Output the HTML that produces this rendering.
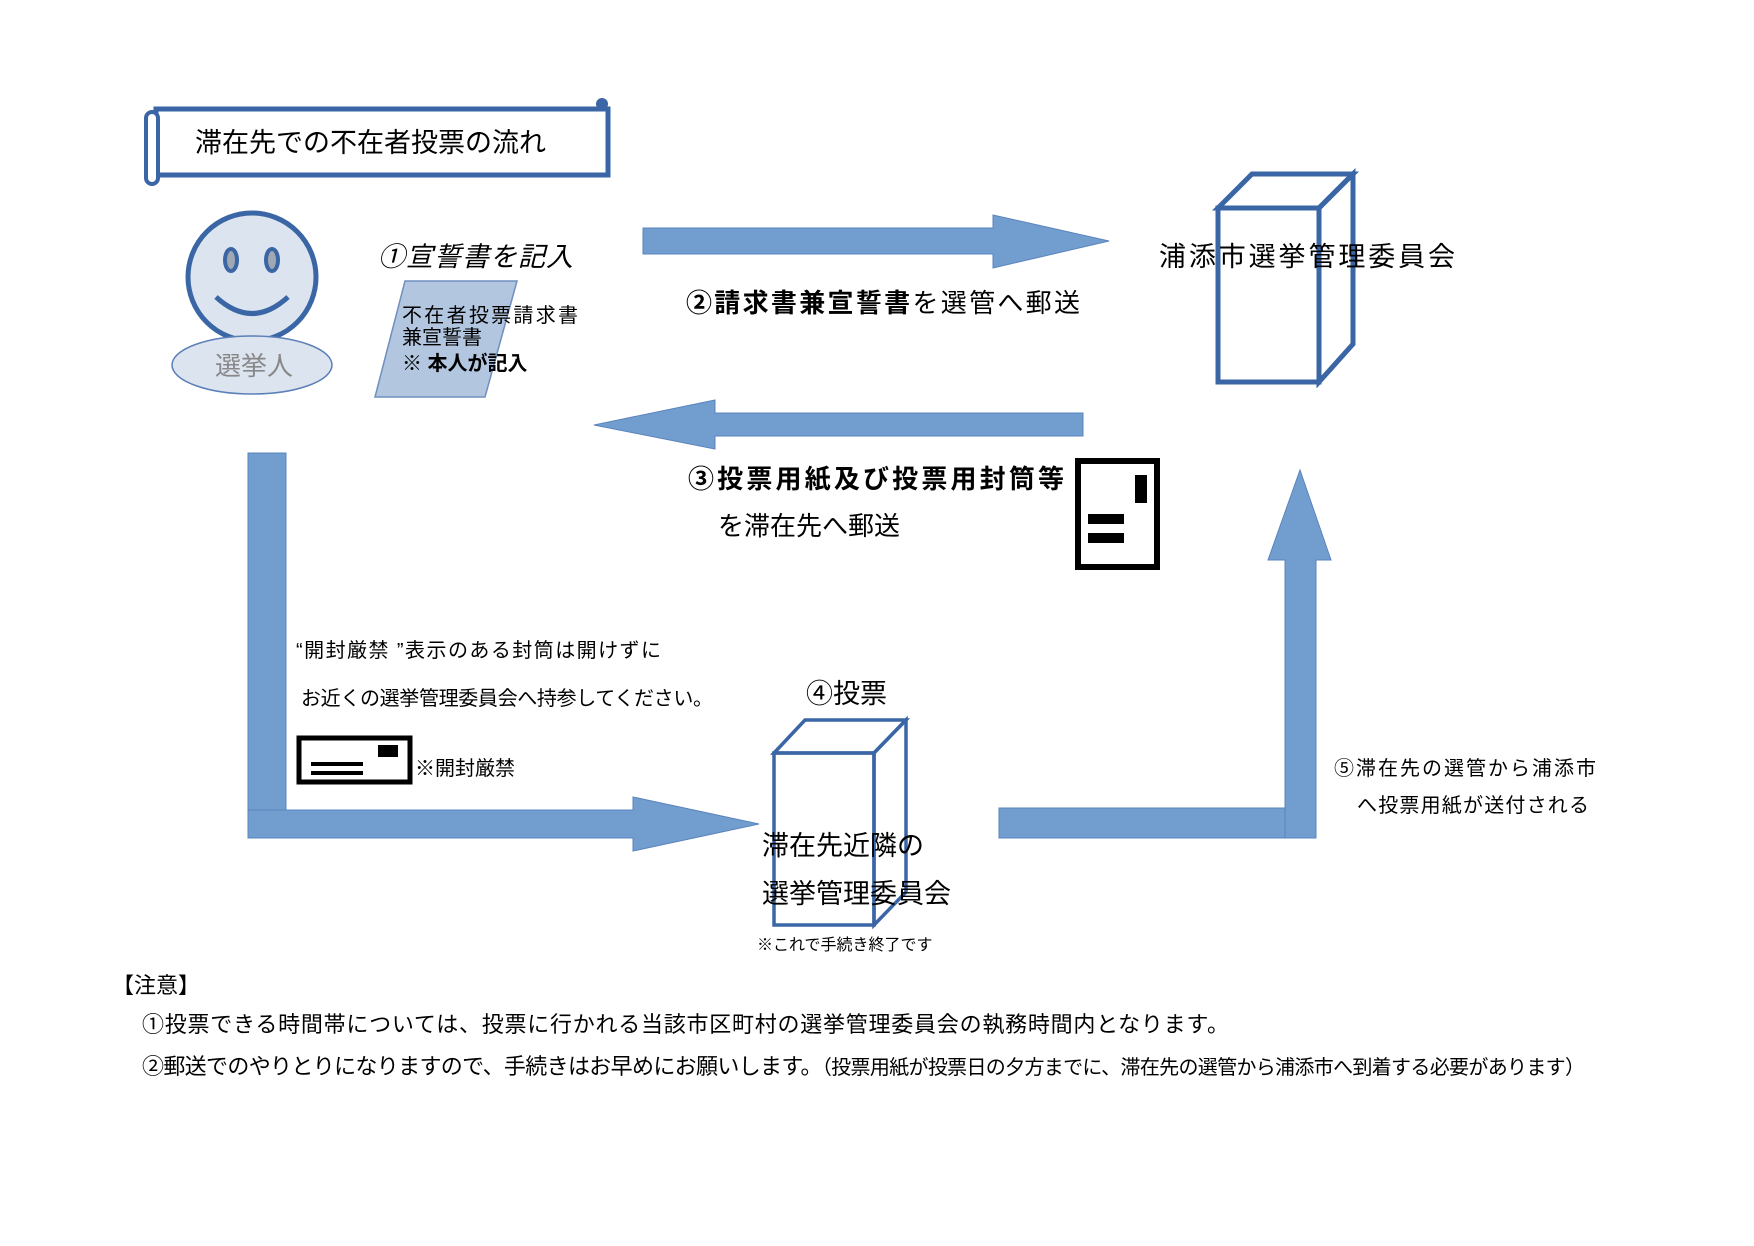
<!DOCTYPE html>
<html><head><meta charset="utf-8"><style>
body{margin:0;background:#fff}
svg text{font-family:"Liberation Sans","Noto Sans CJK JP",sans-serif;fill:#000}
</style></head><body>
<svg width="1754" height="1241" viewBox="0 0 1754 1241" xmlns="http://www.w3.org/2000/svg">
<!-- title scroll -->
<rect x="156" y="109" width="452" height="66" fill="#fff" stroke="#3A66A6" stroke-width="5"/>
<rect x="146" y="112" width="12" height="72" rx="6" fill="#fff" stroke="#3A66A6" stroke-width="4"/>
<circle cx="602" cy="104" r="6" fill="#3A66A6"/>
<text x="195" y="152" font-size="27">滞在先での不在者投票の流れ</text>
<!-- person -->
<circle cx="252" cy="277" r="64" fill="#DCE4EF" stroke="#3A66A6" stroke-width="5"/>
<ellipse cx="231" cy="260" rx="6" ry="11" fill="#a0a8b4" stroke="#3A66A6" stroke-width="4"/>
<ellipse cx="272" cy="260" rx="6" ry="11" fill="#a0a8b4" stroke="#3A66A6" stroke-width="4"/>
<path d="M216 297 Q252 330 288 297" fill="none" stroke="#3A66A6" stroke-width="5"/>
<ellipse cx="252" cy="365" rx="80" ry="29" fill="#DCE4EF" stroke="#5B7FB8" stroke-width="1.5"/>
<text x="215" y="375" font-size="26" style="fill:#888">選挙人</text>
<text x="378" y="266" font-size="27" font-style="italic" textLength="195">①宣誓書を記入</text>
<polygon points="405,281 517,281 485,397 375,397" fill="#B3C6E0" stroke="#6F8FBF" stroke-width="1.5"/>
<text x="402" y="322" font-size="20" textLength="176">不在者投票請求書</text>
<text x="402" y="344" font-size="20">兼宣誓書</text>
<text x="402" y="370" font-size="20" font-weight="bold">※ 本人が記入</text>
<!-- right arrow -->
<polygon points="643,228 993,228 993,215 1109,241 993,268 993,254 643,254" fill="#729ECF" stroke="#5A84BC" stroke-width="1"/>
<text x="686" y="312" font-size="26" textLength="394"><tspan font-weight="bold">②請求書兼宣誓書</tspan>を選管へ郵送</text>
<!-- right box -->
<g fill="none" stroke="#3A66A6" stroke-width="5">
<rect x="1218" y="208" width="101" height="174"/>
<polygon points="1218,208 1252,174 1353,174 1319,208"/>
<polygon points="1319,208 1353,174 1353,344 1319,382"/>
</g>
<text x="1159" y="266" font-size="27" textLength="296">浦添市選挙管理委員会</text>
<!-- left arrow -->
<polygon points="1083,413 715,413 715,400 594,425 715,449 715,436 1083,436" fill="#729ECF" stroke="#5A84BC" stroke-width="1"/>
<text x="688" y="488" font-size="26" font-weight="bold" textLength="376">③投票用紙及び投票用封筒等</text>
<text x="718" y="535" font-size="26">を滞在先へ郵送</text>
<!-- phone icon -->
<rect x="1078" y="461" width="79" height="106" fill="#fff" stroke="#000" stroke-width="6"/>
<rect x="1135" y="475" width="12" height="28" fill="#000"/>
<rect x="1088" y="514" width="36" height="10" fill="#000"/>
<rect x="1088" y="533" width="36" height="10" fill="#000"/>
<!-- left L arrow -->
<rect x="248" y="453" width="38" height="372" fill="#729ECF" stroke="#5A84BC" stroke-width="1"/>
<polygon points="248,810 633,810 633,797 759,824 633,851 633,838 248,838" fill="#729ECF" stroke="#5A84BC" stroke-width="1"/>
<text x="296" y="657" font-size="20" textLength="365">“開封厳禁 ”表示のある封筒は開けずに</text>
<text x="301" y="705" font-size="20" textLength="412">お近くの選挙管理委員会へ持参してください。</text>
<rect x="299" y="738" width="111" height="44" fill="#fff" stroke="#000" stroke-width="5"/>
<rect x="378" y="745" width="20" height="12" fill="#000"/>
<rect x="311" y="762" width="52" height="4" fill="#000"/>
<rect x="311" y="771" width="52" height="4" fill="#000"/>
<text x="415" y="775" font-size="20">※開封厳禁</text>
<!-- center box -->
<text x="806" y="703" font-size="27">④投票</text>
<g fill="none" stroke="#3A66A6" stroke-width="3.5">
<rect x="774" y="753" width="100" height="172"/>
<polygon points="774,753 805,720 906,720 874,753"/>
<polygon points="874,753 906,720 906,892 874,925"/>
</g>
<text x="762" y="855" font-size="27">滞在先近隣の</text>
<text x="762" y="903" font-size="27">選挙管理委員会</text>
<text x="757" y="950" font-size="16">※これで手続き終了です</text>
<!-- right L arrow -->
<rect x="999" y="808" width="315" height="30" fill="#729ECF" stroke="#5A84BC" stroke-width="1"/>
<polygon points="1285,838 1316,838 1316,560 1331,560 1300,470 1268,560 1285,560" fill="#729ECF" stroke="#5A84BC" stroke-width="1"/>
<text x="1334" y="775" font-size="20" textLength="262">⑤滞在先の選管から浦添市</text>
<text x="1357" y="812" font-size="20" textLength="232">へ投票用紙が送付される</text>
<!-- notes -->
<text x="112" y="993" font-size="22">【注意】</text>
<text x="142" y="1032" font-size="22" textLength="1087">①投票できる時間帯については、投票に行かれる当該市区町村の選挙管理委員会の執務時間内となります。</text>
<text x="142" y="1074" font-size="22" textLength="1443">②郵送でのやりとりになりますので、手続きはお早めにお願いします。<tspan font-size="20">（投票用紙が投票日の夕方までに、滞在先の選管から浦添市へ到着する必要があります）</tspan></text>
</svg>
</body></html>
